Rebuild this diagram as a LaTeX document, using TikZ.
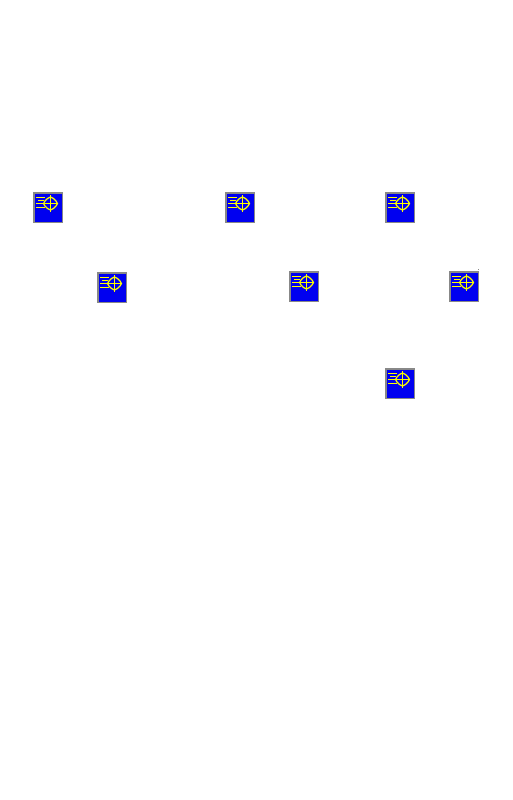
\documentclass[tikz,border=0pt]{standalone}
\tikzset{
  x=1pt,y=-1pt,
  icon/.pic={
    \fill[iconedge] (0,0) rectangle (30,31);
    \fill[iconblue] (2,2) rectangle (29,29.5);
    \draw[iconline] (17.5,3) -- (17.5,20);
    \draw[iconline] (17.5,5) -- (20.5,6.5) -- (23,9) -- (24.5,11.5) -- (23,14) -- (20.5,16.5) -- (17.5,18) -- (14.5,16.5) -- (12,14) -- (10.5,11.5) -- (12,9) -- (14.5,6.5) -- cycle;
    \draw[iconline] (10.5,11.5) -- (24.5,11.5);
    \draw[iconline] (3,5.5) -- (12,5.5) (5,8.5) -- (11,8.5) (3,11.5) -- (10,11.5) (3,15.5) -- (11.5,15.5);
  },
  iconline/.style={draw=iconyellow,line width=1.2pt}
}
\definecolor{iconedge}{RGB}{136,136,136}
\definecolor{iconblue}{RGB}{0,0,240}
\definecolor{iconyellow}{RGB}{255,255,0}
\begin{document}
\begin{tikzpicture}
\useasboundingbox (0,0) rectangle (512,800);
\fill[white] (0,0) rectangle (512,800);
\pic (a) at (33,192) {icon};
\pic (b) at (225,192) {icon};
\pic (c) at (385,192) {icon};
\pic (d) at (97,272) {icon};
\pic (e) at (289,271) {icon};
\pic (f) at (449,271) {icon};
\pic (g) at (385,368) {icon};
\fill[iconedge] (477.5,268.5) rectangle (479,269.5);
\end{tikzpicture}
\end{document}
